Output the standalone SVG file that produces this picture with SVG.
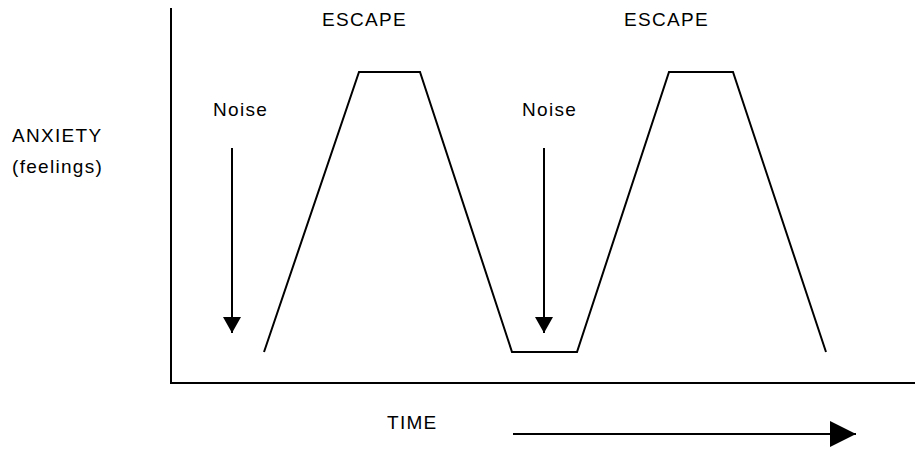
<svg xmlns="http://www.w3.org/2000/svg" width="915" height="449" viewBox="0 0 915 449">
<style>
text{font-family:"Liberation Sans",Arial,sans-serif;font-size:19px;fill:#000;letter-spacing:1.3px}
.ln{fill:none;stroke:#000;stroke-width:2}
</style>
<defs>
<marker id="ah" markerWidth="8" markerHeight="9" refX="8" refY="4.5" orient="auto" markerUnits="strokeWidth"><path d="M0,0 L8,4.5 L0,9 Z" fill="#000"/></marker>
<marker id="ahb" markerWidth="13" markerHeight="13" refX="13" refY="6.5" orient="auto" markerUnits="strokeWidth"><path d="M0,0 L13,6.5 L0,13 Z" fill="#000"/></marker>
</defs>
<g id="axes">
<path class="ln" d="M171,8 V383 H915"/>
</g>
<g id="curve">
<path class="ln" d="M264,352 L359,72 H420 L512,352 H577 L669,72 H733 L826,352"/>
</g>
<g id="connectors">
<line class="ln" x1="232" y1="148" x2="232" y2="333" marker-end="url(#ah)"/>
<line class="ln" x1="544" y1="148" x2="544" y2="333" marker-end="url(#ah)"/>
<line class="ln" x1="513" y1="434" x2="856" y2="434" marker-end="url(#ahb)"/>
</g>
<g id="labels">
<text x="322" y="26">ESCAPE</text>
<text x="624" y="26">ESCAPE</text>
<text x="12" y="142">ANXIETY</text>
<text x="12" y="173">(feelings)</text>
<text x="213" y="116">Noise</text>
<text x="522" y="116">Noise</text>
<text x="387" y="429">TIME</text>
</g>
</svg>
